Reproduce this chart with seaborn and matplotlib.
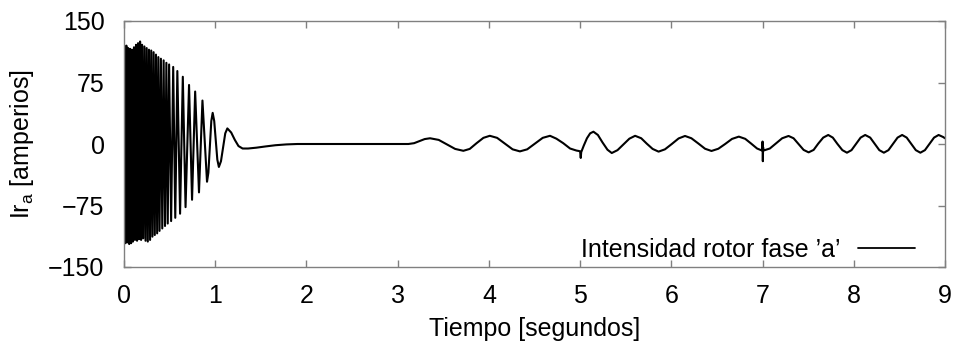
import numpy as np
import pandas as pd
import matplotlib
matplotlib.use("Agg")
import matplotlib.pyplot as plt
import seaborn as sns

# ---- data (time in s, current in A) ----
# start-up: alternating extrema of the rotor current
t_start = [0.0, 0.005, 0.0154, 0.0258, 0.0362, 0.0466, 0.057, 0.0674, 0.0778, 0.0882, 0.0986,
           0.1097, 0.1208, 0.1319, 0.143, 0.1541, 0.1652, 0.1763, 0.1874, 0.1985,
           0.211, 0.2235, 0.236, 0.2485, 0.261, 0.2735, 0.286, 0.2985,
           0.3115, 0.3245, 0.3375, 0.3505, 0.3635, 0.3765, 0.3895,
           0.4045, 0.4195, 0.4345, 0.4495, 0.4645, 0.4795, 0.4945,
           0.5166, 0.5393, 0.562, 0.5847,
           0.6147, 0.6447, 0.6747,
           0.713, 0.746, 0.78, 0.822, 0.86, 0.91]
i_start = [0, 118, -121, 120, -120, 117, -122, 116, -121, 115, -119,
           118, -117, 121, -118, 123, -116, 125, -117, 121,
           -115, 119, -118, 117, -119, 115, -117, 114,
           -113, 112, -111, 109, -109, 106, -106,
           104, -103, 102, -100, 99, -97, 97,
           -94, 94, -90, 89,
           -85, 82, -77,
           72, -68, 64, -59, 53, -46]

# decay of the start-up transient and quiet period
t_decay = [0.925, 0.941, 0.957, 0.972, 0.989, 1.006, 1.023, 1.04, 1.063, 1.086, 1.11, 1.133,
           1.175, 1.215, 1.255, 1.30, 1.36, 1.45, 1.55, 1.66, 1.78, 1.9, 3.117]
i_decay = [-35, -4, 28, 38, 28, 5, -19, -28, -21, -4, 13, 19,
           14, 5, -2.5, -5.5, -5.5, -4.5, -3, -1.5, -0.5, 0, 0]

# load oscillations from t = 3.1 s to 9 s
t_osc = [3.18, 3.237, 3.296, 3.355, 3.45, 3.54, 3.63, 3.72, 3.79, 3.865, 3.94, 4.01,
         4.09, 4.175, 4.26, 4.34, 4.42, 4.505, 4.59, 4.67, 4.74, 4.815, 4.89, 4.96,
         4.985, 5.0, 5.007, 5.012, 5.04, 5.075, 5.11, 5.146,
         5.195, 5.245, 5.30, 5.347, 5.41, 5.475, 5.54, 5.603,
         5.67, 5.73, 5.795, 5.86, 5.93, 6.005, 6.08, 6.15,
         6.22, 6.295, 6.37, 6.44, 6.515, 6.59, 6.665, 6.74,
         6.81, 6.875, 6.94, 6.99, 6.998, 7.0, 7.003, 7.006, 7.01,
         7.08, 7.15, 7.215, 7.285, 7.34, 7.395, 7.45, 7.505,
         7.56, 7.61, 7.665, 7.72, 7.77, 7.82, 7.875, 7.925,
         7.975, 8.025, 8.075, 8.125, 8.18, 8.23, 8.28, 8.33,
         8.38, 8.43, 8.48, 8.53, 8.58, 8.63, 8.68, 8.73,
         8.78, 8.83, 8.88, 8.93, 8.98, 9.0]
i_osc = [1, 3.5, 6, 7, 5, -0.5, -6, -8.3, -6, 1, 7.5, 10,
         7.5, 0.5, -6.5, -9, -6.5, 0.5, 7.5, 10, 6.5, 1, -5.5, -8,
         -8.5, -9, -17, -10, -2, 7, 13, 15,
         11, 2, -7, -11, -7.5, -0.5, 6.5, 10,
         7, 0.5, -6, -9.3, -6.5, 0, 6.8, 9.8,
         7, 0.7, -5.8, -8.5, -5.8, 0, 6.2, 9,
         6.3, 0.5, -5.5, -7.8, -7.5, 3, -21, -4, -8,
         -5.5, 1, 7, 9.8, 7, 0, -7.2, -10.2,
         -7.2, 0.4, 7.8, 11, 7.8, 0.2, -7.5, -10.6,
         -7.5, 0.2, 7.8, 11, 7.8, 0.2, -7.5, -10.6,
         -7.5, 0.2, 7.8, 11, 7.8, 0.2, -7.5, -10.6,
         -7.5, 0.2, 7.8, 11, 8.5, 7]

x_ticks = [0, 1, 2, 3, 4, 5, 6, 7, 8, 9]
y_ticks = [-150, -75, 0, 75, 150]
series_label = "Intensidad rotor fase \u2019a\u2019"
x_label = "Tiempo [segundos]"
y_label = "Ir$_\\mathregular{a}$ [amperios]"

df = pd.DataFrame({
    "t": t_start + t_decay + t_osc,
    "i": i_start + i_decay + i_osc,
})
df["serie"] = series_label

# ---- figure ----
sns.set_theme(style="ticks")
plt.rcParams["font.family"] = ["Liberation Sans", "DejaVu Sans"]
plt.rcParams["mathtext.fontset"] = "custom"
plt.rcParams["mathtext.rm"] = "Liberation Sans"
plt.rcParams["text.color"] = "black"
plt.rcParams["axes.labelcolor"] = "black"

FS = 18
fig = plt.figure(figsize=(9.56, 3.44), dpi=100)
ax = fig.add_axes([124 / 956, 1 - 267 / 344, 821 / 956, 246 / 344])

sns.lineplot(data=df, x="t", y="i", hue="serie", palette=["black"],
             estimator=None, sort=False, linewidth=1.5, ax=ax)

ax.set_xlim(0, 9)
ax.set_ylim(-150, 150)
ax.set_xticks(x_ticks)
ax.set_yticks(y_ticks)
ax.set_yticklabels(["\u2212150", "\u221275", "0", "75", "150"])
ax.set_xlabel(x_label, fontsize=FS, labelpad=7, color="black")
ax.set_ylabel(y_label, fontsize=FS, labelpad=9, color="black")

frame_col = "#808080"
for s in ax.spines.values():
    s.set_visible(True)
    s.set_color(frame_col)
    s.set_linewidth(1.0)
ax.tick_params(axis="both", which="both", direction="in", length=5, width=1,
               color=frame_col, labelsize=FS, top=True, right=True,
               labelcolor="black")
ax.tick_params(axis="x", pad=12)
ax.tick_params(axis="y", pad=14)

leg = ax.legend(loc="center right", bbox_to_anchor=(0.9635, 0.069),
                frameon=False, markerfirst=False, fontsize=FS,
                handlelength=2.3, handletextpad=0.7, borderpad=0,
                borderaxespad=0)
for txt in leg.get_texts():
    txt.set_color("black")
for h in leg.get_lines():
    h.set_linewidth(1.3)

fig.savefig("out.png", dpi=100)
